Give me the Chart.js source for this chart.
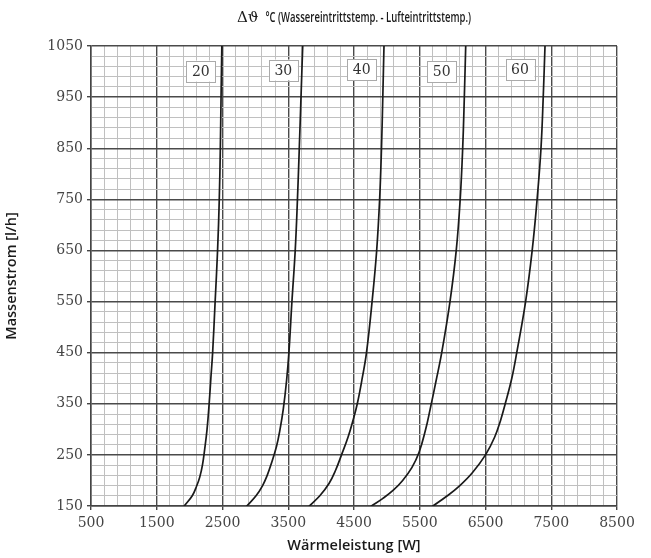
<!DOCTYPE html>
<html>
<head>
<meta charset="utf-8">
<script src="https://cdn.jsdelivr.net/npm/chart.js@4.4.0/dist/chart.umd.min.js"></script>
<style>
  body { margin: 0; background: #fff; }
</style>
</head>
<body>
<canvas id="myChart" width="651" height="558"></canvas>
<script>
// curves: Massenstrom [l/h] against Wärmeleistung [W], one per temperature difference
const flow20 = [150, 170, 190, 207, 230, 260, 300, 350, 400, 450, 550, 650, 750, 850, 950, 1050];
const power20 = [1918, 2040, 2110, 2155, 2195, 2228, 2265, 2297, 2323, 2350, 2388, 2425, 2451, 2467, 2478, 2490];

const flow30 = [150, 170, 190, 210, 230, 266, 300, 340, 396, 450, 550, 650, 750, 850, 950, 1050];
const power30 = [2870, 3010, 3110, 3180, 3235, 3320, 3375, 3425, 3475, 3510, 3556, 3606, 3640, 3668, 3694, 3720];

const flow40 = [150, 170, 194, 220, 250, 285, 320, 350, 400, 450, 550, 650, 750, 850, 950, 1050];
const power40 = [3820, 3980, 4120, 4220, 4310, 4410, 4490, 4550, 4625, 4690, 4775, 4845, 4890, 4918, 4938, 4956];

const flow50 = [150, 165, 181, 200, 225, 255, 300, 338, 396, 450, 550, 650, 750, 850, 950, 1050];
const power50 = [4765, 4940, 5098, 5240, 5380, 5490, 5590, 5656, 5750, 5834, 5960, 6055, 6115, 6153, 6178, 6199];

const flow60 = [150, 170, 190, 215, 250, 285, 318, 350, 400, 450, 550, 650, 750, 850, 950, 1050];
const power60 = [5700, 5920, 6110, 6300, 6500, 6640, 6730, 6800, 6900, 6975, 7110, 7210, 7285, 7344, 7378, 7405];

// boxed labels at the top of each curve
const curveLabels = ['20', '30', '40', '50', '60'];
const labelPower = [2170, 3425, 4617, 5834, 7025];
const labelFlow = [1001, 1003, 1004, 1000, 1004];

const titleSymbol = 'Δϑ';
const titleText = '°C (Wassereintrittstemp. - Lufteintrittstemp.)';
const xTitle = 'Wärmeleistung [W]';
const yTitle = 'Massenstrom [l/h]';

function toPoints(power, flow) {
  return power.map((p, i) => ({x: p, y: flow[i]}));
}

function curve(power, flow) {
  return {
    data: toPoints(power, flow),
    showLine: true,
    borderColor: '#1a1a1a',
    borderWidth: 1.7,
    pointRadius: 0,
    tension: 0.4,
    borderCapStyle: 'round'
  };
}

const serif = '"DejaVu Serif", "Liberation Serif", serif';
const sans = '"Open Sans", "Noto Sans", sans-serif';

// title above the plot, squeezed to the width of the condensed original
const titlePlugin = {
  id: 'topTitle',
  afterDraw(chart) {
    const ctx = chart.ctx;
    const area = chart.chartArea;
    ctx.save();
    ctx.textBaseline = 'middle';
    ctx.fillStyle = '#1a1a1a';
    ctx.font = '15px ' + serif;
    const w1 = ctx.measureText(titleSymbol).width;
    ctx.font = '600 14px ' + sans;
    const w2 = ctx.measureText(titleText).width;
    const gap = 7;
    const total = 234;
    const sx = (total - w1 - gap) / w2;
    let x = (area.left + area.right) / 2 - total / 2;
    const y = 18;
    ctx.font = '15px ' + serif;
    ctx.fillText(titleSymbol, x, y);
    x += w1 + gap;
    ctx.translate(x, y);
    ctx.scale(sx, 1);
    ctx.font = '600 14px ' + sans;
    ctx.fillText(titleText, 0, 0);
    ctx.restore();
  }
};

const boxPlugin = {
  id: 'curveBoxes',
  afterDatasetsDraw(chart) {
    const ctx = chart.ctx;
    const xs = chart.scales.x;
    const ys = chart.scales.y;
    ctx.save();
    ctx.font = '14px ' + serif;
    ctx.textAlign = 'center';
    ctx.textBaseline = 'middle';
    curveLabels.forEach((lab, i) => {
      const cx = xs.getPixelForValue(labelPower[i]);
      const cy = ys.getPixelForValue(labelFlow[i]);
      ctx.fillStyle = '#fff';
      ctx.fillRect(cx - 14.5, cy - 10.5, 29, 21);
      ctx.strokeStyle = '#aaa';
      ctx.lineWidth = 1;
      ctx.strokeRect(Math.round(cx - 14.5) + 0.5, Math.round(cy - 10.5) + 0.5, 29, 21);
      ctx.fillStyle = '#333';
      ctx.fillText(lab, cx, cy + 1);
    });
    ctx.restore();
  }
};

function isMajorX(v) { return (v - 500) % 1000 === 0; }
function isMajorY(v) { return (v - 150) % 100 === 0; }

const config = {
  type: 'scatter',
  data: {
    datasets: [
      curve(power20, flow20),
      curve(power30, flow30),
      curve(power40, flow40),
      curve(power50, flow50),
      curve(power60, flow60)
    ]
  },
  options: {
    responsive: false,
    animation: false,
    devicePixelRatio: 1,
    layout: { padding: { top: 46, right: 34, left: 0, bottom: 0 } },
    plugins: {
      legend: { display: false },
      tooltip: { enabled: false }
    },
    scales: {
      x: {
        type: 'linear',
        min: 500,
        max: 8500,
        afterBuildTicks: function(scale) {
          const t = [];
          for (let v = 500; v <= 8500; v += 200) t.push({value: v});
          scale.ticks = t;
        },
        afterFit: function(scale) { scale.height = 52; },
        ticks: {
          autoSkip: false,
          maxRotation: 0,
          padding: 5,
          color: '#444',
          font: { family: serif, size: 14 },
          callback: function(v) { return isMajorX(v) ? String(v) : ''; }
        },
        grid: {
          color: ctx => ctx.tick && isMajorX(ctx.tick.value) ? '#4a4a4a' : '#c0c0c0',
          lineWidth: ctx => ctx.tick && isMajorX(ctx.tick.value) ? 1.4 : 1,
          tickColor: ctx => ctx.tick && isMajorX(ctx.tick.value) ? '#444' : 'rgba(0,0,0,0)',
          tickLength: 4
        },
        border: { color: '#444', width: 1.5 },
        title: {
          display: true,
          text: xTitle,
          color: '#1a1a1a',
          font: { family: sans, size: 14.5, weight: '600' },
          padding: { top: 0, bottom: 3 }
        }
      },
      y: {
        type: 'linear',
        min: 150,
        max: 1050,
        afterBuildTicks: function(scale) {
          const t = [];
          for (let v = 150; v <= 1050; v += 20) t.push({value: v});
          scale.ticks = t;
        },
        afterFit: function(scale) { scale.width = 91; },
        ticks: {
          autoSkip: false,
          padding: 4,
          color: '#444',
          font: { family: serif, size: 14 },
          callback: function(v) { return isMajorY(v) ? String(v) : ''; }
        },
        grid: {
          color: ctx => ctx.tick && isMajorY(ctx.tick.value) ? '#4a4a4a' : '#c0c0c0',
          lineWidth: ctx => ctx.tick && isMajorY(ctx.tick.value) ? 1.4 : 1,
          tickColor: ctx => ctx.tick && isMajorY(ctx.tick.value) ? '#444' : 'rgba(0,0,0,0)',
          tickLength: 4
        },
        border: { color: '#444', width: 1.5 },
        title: {
          display: true,
          text: yTitle,
          color: '#1a1a1a',
          font: { family: sans, size: 14.5, weight: '600' },
          padding: { top: 3, bottom: 0 }
        }
      }
    }
  },
  plugins: [titlePlugin, boxPlugin]
};

const myChart = new Chart(document.getElementById('myChart'), config);
</script>
</body>
</html>
